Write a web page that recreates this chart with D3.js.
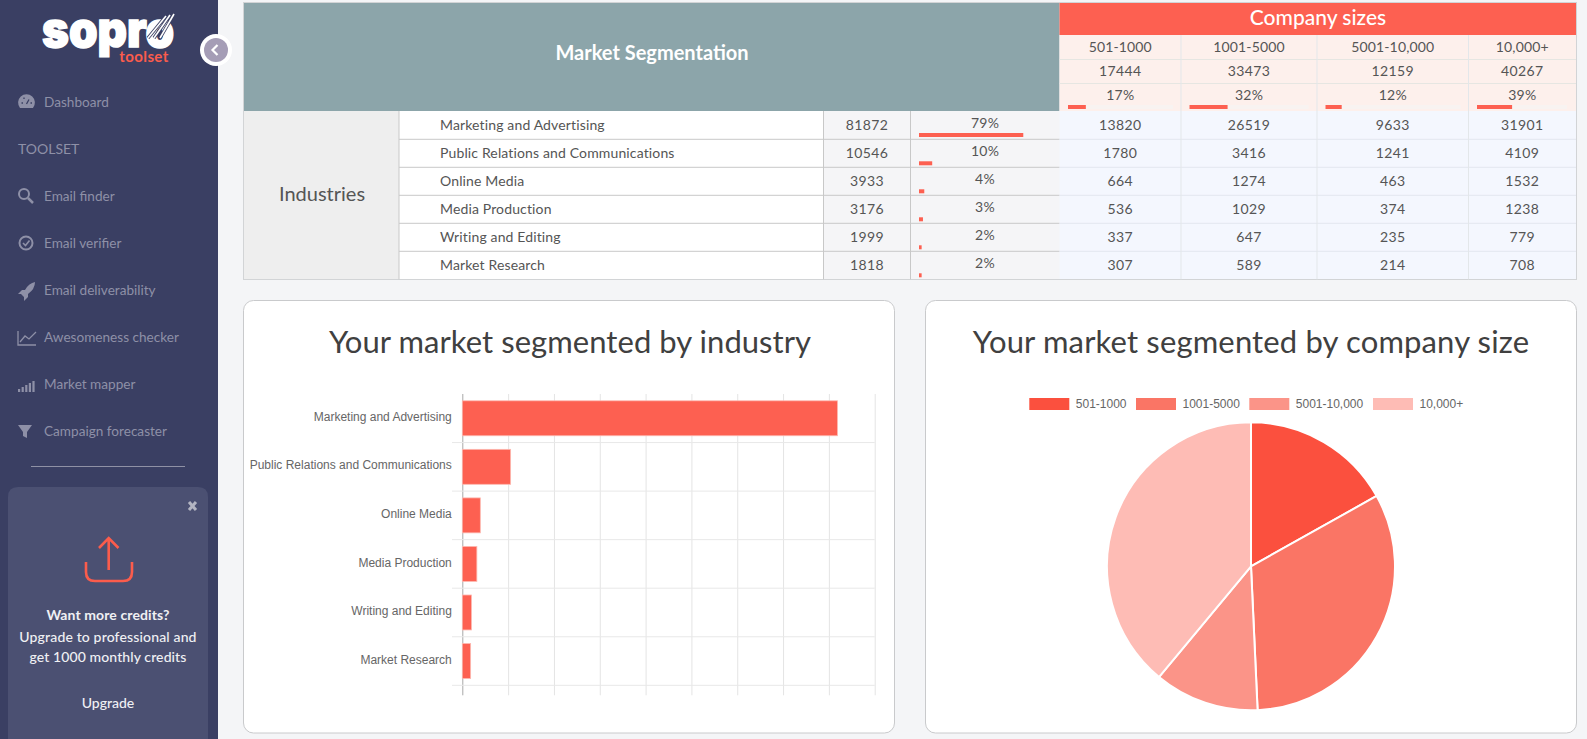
<!DOCTYPE html>
<html><head><meta charset="utf-8">
<script src="https://cdn.jsdelivr.net/npm/d3@7/dist/d3.min.js"></script>
<style>html,body{margin:0;padding:0;background:#f4f5f7;overflow:hidden}svg{display:block}
text{font-family:Lato,"Noto Sans",sans-serif}</style></head><body><svg id="c" width="1587" height="739"></svg>
<script>
const industries=["Marketing and Advertising","Public Relations and Communications","Online Media","Media Production","Writing and Editing","Market Research"];
const industryTotals=[81872,10546,3933,3176,1999,1818];
const industryPct=[79,10,4,3,2,2];
const sizes=["501-1000","1001-5000","5001-10,000","10,000+"];
const sizeTotals=[17444,33473,12159,40267];
const sizePct=[17,32,12,39];
const size501=[13820,1780,664,536,337,307];
const size1001=[26519,3416,1274,1029,647,589];
const size5001=[9633,1241,463,374,235,214];
const size10000=[31901,4109,1532,1238,779,708];
const pieColors=["#fb503e","#fa7565","#fb9488","#febcb5"];
const navItems=["Dashboard","Email finder","Email verifier","Email deliverability","Awesomeness checker","Market mapper","Campaign forecaster"];
const xTicks=[0,10000,20000,30000,40000,50000,60000,70000,80000,90000];

const svg=d3.select("#c");
const coral="#fd6051",ink="#555",muted="#8e90a7";
const T=(g,x,y,s,o={})=>g.append("text").attr("x",x).attr("y",y).attr("dy","0.35em").attr("text-anchor",o.a||"middle")
  .attr("font-size",o.s||14).attr("font-weight",o.w||400).attr("fill",o.f||ink).attr("letter-spacing",o.ls||null).text(s);
const R=(g,x0,y0,x1,y1,f,st)=>g.append("rect").attr("x",x0).attr("y",y0).attr("width",x1-x0).attr("height",y1-y0).attr("fill",f).attr("stroke",st||"none");

/* sidebar */
const side=svg.append("g");
R(side,0,0,218,739,"#3a3f63");
const logo=side.append("g");
logo.append("text").attr("x",42).attr("y",47).attr("font-size",49).attr("font-weight",900).attr("fill","#fff").attr("stroke","#fff").attr("stroke-width",1.5)
  .style("font-family","Inter,Lato,sans-serif").attr("textLength",132).attr("lengthAdjust","spacingAndGlyphs").text("sopro");
logo.selectAll("line.d").data([0,1,2]).join("line").attr("class","d").attr("x1",d=>148+d*6).attr("y1",38).attr("x2",d=>166+d*4).attr("y2",d=>16-d)
  .attr("stroke","#3a3f63").attr("stroke-width",3.4);
logo.selectAll("line.w").data([0,1,2]).join("line").attr("class","w").attr("x1",d=>148+d*6).attr("y1",38).attr("x2",d=>166+d*4).attr("y2",d=>16-d)
  .attr("stroke","#fff").attr("stroke-width",1.6);
T(logo,144,57,"toolset",{s:15,w:700,f:"#fb5c4c",ls:.4});
side.append("circle").attr("cx",216).attr("cy",50).attr("r",16).attr("fill","#fff");
side.append("circle").attr("cx",216).attr("cy",50).attr("r",12).attr("fill","#a59db6");
side.append("path").attr("d","M217.5 45 L212.5 50 L217.5 55").attr("fill","none").attr("stroke","#fff").attr("stroke-width",2.2);
const navY=d3.scaleOrdinal().domain(navItems).range([102,196,243,290,337,384,431]);
side.selectAll("text.nav").data(navItems).join("text").attr("class","nav").attr("x",44).attr("y",d=>navY(d)).attr("dy","0.35em")
  .attr("font-size",13.6).attr("fill",muted).text(d=>d);
T(side,18,149,"TOOLSET",{a:"start",f:muted,s:14});
/* nav icons */
const ic=side.append("g").attr("fill","none").attr("stroke",muted).attr("stroke-width",2);
ic.append("path").attr("d","M20 108 A8.4 8.4 0 1 1 33 108 Z").attr("fill",muted).attr("stroke","none");
ic.append("path").attr("d","M26.5 104 L29 99.5 M21.5 103 H23 M30.5 103 H32 M24 97.5 V99").attr("stroke","#3a3f63").attr("stroke-width",1.3);
ic.append("circle").attr("cx",24).attr("cy",194).attr("r",5);ic.append("path").attr("d","M28 198 L33 203").attr("stroke-width",2.5);
ic.append("circle").attr("cx",26).attr("cy",243).attr("r",6.5);ic.append("path").attr("d","M23 243 L25.5 245.5 L29.5 240.5").attr("stroke-width",1.6);
ic.append("path").attr("d","M18 294 L22 290 H25 Q29 283 35 282 Q35 289 28 294 V297 L24 301 V297 L21 294 Z").attr("fill",muted).attr("stroke","none");
ic.append("path").attr("d","M18 331 V345 H36 M20 342 L25 336 L29 339 L36 332").attr("stroke-width",1.3);
ic.selectAll("rect.b").data([0,1,2,3,4]).join("rect").attr("class","b").attr("x",d=>18+d*3.6).attr("y",d=>389-d*2).attr("width",2.2).attr("height",d=>3+d*2).attr("fill",muted).attr("stroke","none");
ic.append("path").attr("d","M18 425 H32 L27 432 V438 L23 436 V432 Z").attr("fill",muted).attr("stroke","none");
side.append("line").attr("x1",31).attr("x2",185).attr("y1",466.5).attr("y2",466.5).attr("stroke","#8f91a5");
side.append("path").attr("d","M8 739 V497 Q8 487 18 487 H198 Q208 487 208 497 V739 Z").attr("fill","#4b5072");
side.append("path").attr("d","M189 502 L196 510 M196 502 L189 510").attr("stroke","#b3b5c2").attr("stroke-width",3);
const up=side.append("g").attr("fill","none").attr("stroke","#fb5c4c").attr("stroke-width",2.6);
up.append("path").attr("d","M108.7 570 V538 M99 548 L108.7 538 L118.5 548");
up.append("path").attr("d","M86 562 V572 Q86 581 95 581 H123 Q132 581 132 572 V562");
T(side,108,615,"Want more credits?",{w:700,f:"#f0f0f4",ls:.1});
T(side,108,637,"Upgrade to professional and",{f:"#f0f0f4",w:500,ls:.15});
T(side,108,657,"get 1000 monthly credits",{f:"#f0f0f4",w:500,ls:.1});
T(side,108,703,"Upgrade",{f:"#f0f0f4",w:500});

/* table */
const tb=svg.append("g");
const rowEdges=[111,139.3,167.3,195.3,223.3,251.3,279.3];
const colEdges=[1059.5,1181,1317,1468.5,1576];
const headEdges=[35,59.5,83.5,111];
R(tb,244,3,1059.5,111,"#8ca5aa");
R(tb,1059.5,3,1576,35,"#fd6051");
R(tb,1059.5,35,1576,111,"#fdf0ec");
R(tb,244,111,399,279.3,"#eeeeee");
R(tb,399,111,823.5,279.3,"#ffffff");
R(tb,823.5,111,1059.5,279.3,"#f5f5f7");
R(tb,1059.5,111,1576,279.3,"#f4f7fe");
tb.append("rect").attr("x",243.5).attr("y",2.5).attr("width",1333).attr("height",277).attr("fill","none").attr("stroke","#d2d4d6");
T(tb,652,53,"Market Segmentation",{s:20,w:700,f:"#fff"});
T(tb,1318,18,"Company sizes",{s:21,w:500,f:"#fff"});
T(tb,322,194,"Industries",{s:20,f:"#555"});
const rowMid=d3.pairs(rowEdges).map(d=>(d[0]+d[1])/2);
const colMid=d3.pairs(colEdges).map(d=>(d[0]+d[1])/2);
const lines=tb.append("g");
rowEdges.slice(1,-1).forEach(y=>{
  lines.append("line").attr("x1",399).attr("x2",1059.5).attr("y1",y).attr("y2",y).attr("stroke","#c8c8c8");
  lines.append("line").attr("x1",1059.5).attr("x2",1576).attr("y1",y).attr("y2",y).attr("stroke","#e3e7ef");});
headEdges.slice(1,-1).forEach(y=>lines.append("line").attr("x1",1059.5).attr("x2",1576).attr("y1",y).attr("y2",y).attr("stroke","#e6e6e2"));
[399,823.5,910.5].forEach(x=>lines.append("line").attr("x1",x).attr("x2",x).attr("y1",111).attr("y2",279.3).attr("stroke","#c8c8c8"));
colEdges.slice(1,-1).forEach(x=>lines.append("line").attr("x1",x).attr("x2",x).attr("y1",35).attr("y2",279.3).attr("stroke","#e3e7ea"));
const num=.35;
industries.forEach((n,i)=>{
  T(tb,440,rowMid[i],n,{a:"start",s:14,ls:.14});
  T(tb,867,rowMid[i],industryTotals[i],{s:14,ls:num});
  T(tb,985,rowMid[i]-2,industryPct[i]+"%",{s:14,ls:.25});
});
const pctX=d3.scaleLinear().domain([0,100]).range([0,132]);
tb.selectAll("rect.ib").data(industryPct).join("rect").attr("class","ib").attr("x",919).attr("y",(d,i)=>rowEdges[i]+22).attr("height",4).attr("width",d=>pctX(d)).attr("fill",coral);
const sizeCols=[size501,size1001,size5001,size10000];
const trackW=[105,119,135,90];
sizes.forEach((s,j)=>{
  T(tb,colMid[j],47,s,{s:14,ls:.15});
  T(tb,colMid[j],71.5,sizeTotals[j],{s:14,ls:num});
  T(tb,colMid[j],95.5,sizePct[j]+"%",{s:14,ls:.25});
  const l=colEdges[j]+8.5;
  R(tb,l,105,l+trackW[j],109,"#f8f3f1");
  tb.append("rect").attr("x",l).attr("y",105).attr("height",4).attr("width",d3.scaleLinear().domain([0,100]).range([0,trackW[j]])(sizePct[j])).attr("fill",coral);
  sizeCols[j].forEach((v,i)=>T(tb,colMid[j],rowMid[i],v,{s:14,ls:num}));
});

/* cards */
const card=(x0,x1)=>svg.append("rect").attr("x",x0+.5).attr("y",300.5).attr("width",x1-x0).attr("height",432.5).attr("rx",10).attr("fill","#fff").attr("stroke","#c9cacc");
card(243,894);card(925,1576);
T(svg,570,342,"Your market segmented by industry",{s:31,f:"#404040",ls:.05});
T(svg,1251,342,"Your market segmented by company size",{s:31,f:"#404040",ls:.15});

/* bar chart */
const bar=svg.append("g");
const x=d3.scaleLinear().domain([0,90000]).range([462.3,874.7]);
const yTop=394,yBot=685.3;
const y=d3.scaleBand().domain(industries).range([yTop,yBot]).paddingInner(.28).paddingOuter(.14);
const gx=bar.append("g").attr("transform",`translate(0,${yTop})`).call(d3.axisBottom(x).tickValues(xTicks).tickSize(yBot-yTop+10).tickFormat(""));
gx.select(".domain").remove();
gx.selectAll(".tick line").attr("stroke",d=>d===0?"#a8a8a8":"#e4e4e4");
const step=(yBot-yTop)/industries.length;
bar.selectAll("line.h").data(d3.range(1,industries.length+1)).join("line").attr("class","h").attr("x1",452).attr("x2",874.7)
  .attr("y1",d=>yTop+d*step).attr("y2",d=>yTop+d*step).attr("stroke","#e8e8e8");
bar.selectAll("rect.bar").data(industries).join("rect").attr("class","bar").attr("x",x(0)).attr("y",d=>y(d))
  .attr("width",(d,i)=>x(industryTotals[i])-x(0)).attr("height",y.bandwidth()).attr("fill",coral).attr("stroke","#fdb9b1").attr("stroke-width",.8);
const gy=bar.append("g").attr("transform",`translate(${x(0)},0)`).call(d3.axisLeft(y).tickSize(0).tickPadding(10.5));
gy.select(".domain").remove();
gy.selectAll("text").attr("font-size",12).attr("fill","#666").attr("dy","0.22em").style("font-family","'Liberation Sans',Arial,sans-serif");

/* pie */
const pg=svg.append("g").attr("transform","translate(1251,566.3)");
const arc=d3.arc().innerRadius(0).outerRadius(144);
pg.selectAll("path").data(d3.pie().sort(null)(sizeTotals)).join("path").attr("d",arc).attr("fill",(d,i)=>pieColors[i]).attr("stroke","#fff").attr("stroke-width",2);
const legX=[1029.3,1136,1249.3,1373];
const leg=svg.append("g").selectAll("g").data(sizes).join("g").attr("transform",(d,i)=>`translate(${legX[i]},398)`);
leg.append("rect").attr("width",40).attr("height",12).attr("fill",(d,i)=>pieColors[i]);
leg.append("text").attr("x",46.5).attr("y",6).attr("dy","0.35em").attr("font-size",12).attr("fill","#666").style("font-family","'Liberation Sans',Arial,sans-serif").text(d=>d);
</script></body></html>
